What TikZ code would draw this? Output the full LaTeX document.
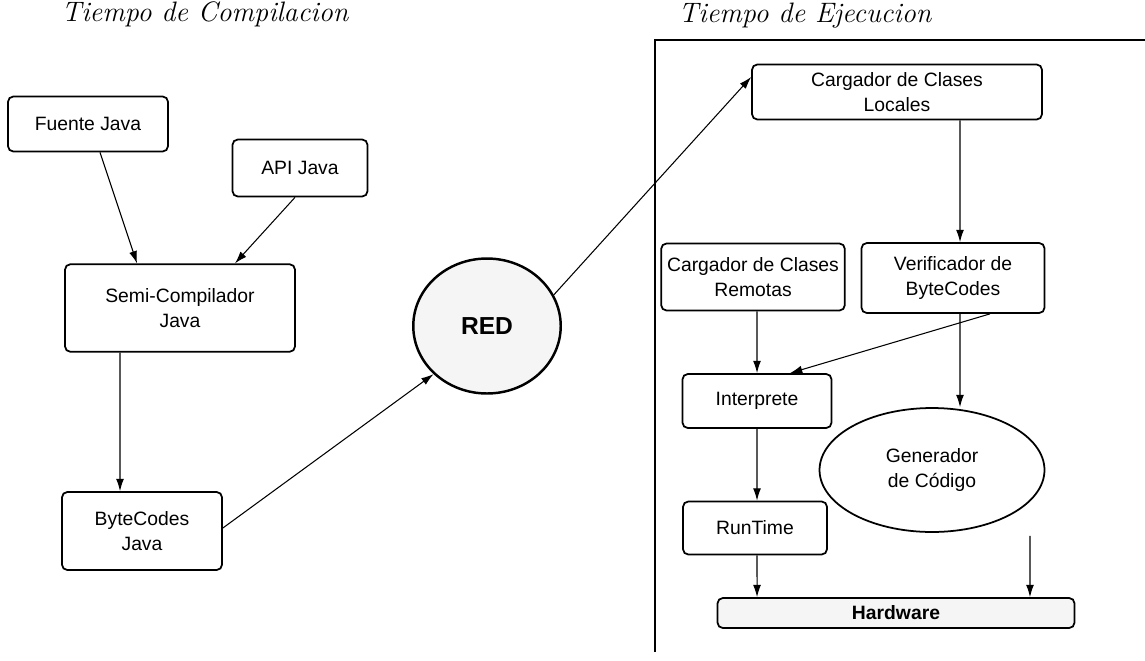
\documentclass[tikz,border=0pt]{standalone}
\usepackage{fontspec}
\newfontfamily\sans{Liberation Sans}
\usetikzlibrary{arrows.meta,shapes.geometric}

\tikzset{
  caja/.style={draw, rounded corners=3pt, line width=1pt, align=center,
    font=\sans\fontsize{11}{14}\selectfont},
  nube/.style={draw, ellipse, line width=1pt, align=center,
    font=\sans\fontsize{11}{14}\selectfont},
  titulo/.style={font=\fontsize{16}{18}\selectfont\itshape},
  flecha/.style={->, line width=0.6pt}
}

\begin{document}
\begin{tikzpicture}[>={Latex[length=7pt,width=4.5pt]}, x=0.02cm, y=-0.02cm]
	\useasboundingbox (0,0) rectangle (1145,660);
	% titulos
	\node[titulo] (tcomp) at (205,14) {Tiempo de Compilacion};
	\node[titulo] (tejec) at (805,16) {Tiempo de Ejecucion};
	% marco de ejecucion
	\draw[line width=1pt] (655,652) -- (655,40) -- (1145,40);

	% compilacion
	\node[caja, minimum width=3.2cm, minimum height=1.1cm] (fuente) at (88,124) {Fuente Java};
	\node[caja, minimum width=2.7cm, minimum height=1.14cm] (api) at (300,168) {API Java};
	\node[caja, minimum width=4.6cm, minimum height=1.75cm] (semi) at (180,308) {Semi-Compilador\\Java};
	\node[caja, minimum width=3.2cm, minimum height=1.56cm] (byte) at (142,531) {ByteCodes\\Java};
	\node[draw, ellipse, line width=1.4pt, fill=gray!8, minimum width=2.95cm, minimum height=2.7cm,
		font=\sans\bfseries\fontsize{14}{16}\selectfont] (red) at (487,326) {RED};

	% ejecucion
	\node[caja, minimum width=5.8cm, minimum height=1.1cm] (locales) at (897,92) {Cargador de Clases\\Locales};
	\node[caja, minimum width=3.26cm, minimum height=1.34cm] (remotas) at (753,277) {Cargador de Clases\\Remotas};
	\node[caja, minimum width=3.66cm, minimum height=1.4cm] (verif) at (953,278) {Verificador de\\ByteCodes};
	\node[caja, minimum width=2.98cm, minimum height=1.08cm] (interp) at (757,401) {Interprete};
	\node[nube, minimum width=4.5cm, minimum height=2.48cm] (gen) at (932,470) {Generador\\de Código};
	\node[caja, minimum width=2.88cm, minimum height=1.06cm] (runtime) at (755,528) {RunTime};
	\node[caja, fill=gray!8, minimum width=7.14cm, minimum height=0.6cm,
		font=\sans\bfseries\fontsize{11}{14}\selectfont] (hard) at (896,613) {Hardware};

	% conexiones
	\draw[flecha] ([xshift=0.24cm]fuente.south) -- ([xshift=-0.86cm]semi.north);
	\draw[flecha] ([xshift=-0.1cm]api.south) -- ([xshift=1.1cm]semi.north);
	\draw[flecha] ([xshift=-1.2cm]semi.south) -- ([xshift=-0.44cm]byte.north);
	\draw[flecha] ([yshift=0.06cm]byte.east) -- (red.222);
	\draw[flecha] (red.25) -- ([yshift=0.3cm]locales.west);
	\draw[flecha] ([xshift=1.26cm]locales.south) -- ([xshift=0.14cm]verif.north);
	\draw[flecha] ([xshift=0.08cm]remotas.south) -- (interp.north);
	\draw[flecha] ([xshift=0.74cm]verif.south) -- ([xshift=0.66cm]interp.north);
	\draw[flecha] ([xshift=0.14cm]verif.south) -- ([xshift=0.56cm]gen.north);
	\draw[flecha] (interp.south) -- ([xshift=0.04cm]runtime.north);
	\draw[flecha] ([xshift=0.04cm]runtime.south) -- ([xshift=-2.78cm]hard.north);
	\draw[flecha] ([xshift=1.96cm,yshift=-0.06cm]gen.south) -- ([xshift=2.68cm]hard.north);
\end{tikzpicture}
\end{document}
